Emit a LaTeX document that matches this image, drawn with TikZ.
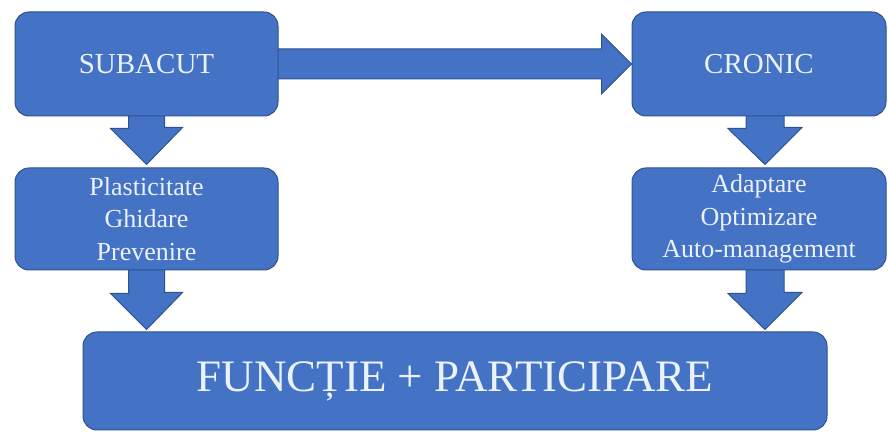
\documentclass[tikz,border=0pt]{standalone}
\usepackage{fontspec}
\setmainfont{Liberation Serif}
\usepackage{tikz}
\usetikzlibrary{calc,backgrounds}
\definecolor{boxblue}{RGB}{68,114,196}
\definecolor{edgeblue}{RGB}{47,82,143}
\definecolor{paletext}{RGB}{236,242,251}

\begin{document}
\begin{tikzpicture}[line join=miter,
  box/.style={draw=edgeblue,line width=1bp,fill=boxblue,rounded corners=14bp,
    text=paletext,inner sep=0pt,align=center},
  blockarrow/.style={draw=edgeblue,line width=1bp,fill=boxblue}]
\useasboundingbox (0bp,0bp) rectangle (888bp,432bp);
%%
\node (sub) at (146.5bp,368.0bp) [box,minimum width=263bp,minimum height=104bp,
  font=\fontsize{29bp}{34bp}\selectfont] {SUBACUT};
  \node (cron) at (759.0bp,368.0bp) [box,minimum width=254bp,minimum height=104bp,
  font=\fontsize{29bp}{34bp}\selectfont] {CRONIC};
  \node (plast) at (146.5bp,213.0bp) [box,minimum width=263bp,minimum height=102bp,
  font=\fontsize{26bp}{32.5bp}\selectfont] {Plasticitate\\Ghidare\\Prevenire};
  \node (adapt) at (759.0bp,213.0bp) [box,minimum width=254bp,minimum height=102bp,
  font=\fontsize{26bp}{32.5bp}\selectfont] {Adaptare\\Optimizare\\Auto-management};
  \node (func) at (455.0bp,51.0bp) [box,minimum width=744bp,minimum height=98bp,
  font=\fontsize{45bp}{50bp}\selectfont] {FUNCȚIE + PARTICIPARE};
%
\begin{scope}[on background layer]
  \draw [blockarrow] ([yshift=15bp,xshift=-4bp]sub.east) -- ([yshift=15bp,xshift=-30bp]cron.west)
    -- ++(0,15bp) -- (cron.west) -- ++(-30bp,-30bp) -- ++(0,15bp)
    -- ([yshift=-15bp,xshift=-4bp]sub.east) -- cycle;
  \draw [blockarrow] ([xshift=-18bp,yshift=4bp]sub.south) -- ++(0,-16bp) -- ++(-18bp,0)
    -- ([yshift=3bp]plast.north) -- ++(36bp,37bp) -- ++(-18bp,0) -- ++(0,16bp) -- cycle;
  \draw [blockarrow] ([xshift=-18bp,yshift=4bp]plast.south) -- ++(0,-27bp) -- ++(-18bp,0)
    -- ([yshift=2bp]plast.south |- func.north) -- ++(36bp,37bp) -- ++(-18bp,0) -- ++(0,27bp) -- cycle;
  \draw [blockarrow] ([xshift=-13bp,yshift=4bp]cron.south) -- ++(0,-16bp) -- ++(-18bp,0)
    -- ([xshift=6bp,yshift=3bp]adapt.north) -- ++(37bp,37bp) -- ++(-18bp,0) -- ++(0,16bp) -- cycle;
  \draw [blockarrow] ([xshift=-13bp,yshift=4bp]adapt.south) -- ++(0,-27bp) -- ++(-18bp,0)
    -- ([xshift=6bp,yshift=2bp]adapt.south |- func.north) -- ++(37bp,37bp) -- ++(-18bp,0) -- ++(0,27bp) -- cycle;
\end{scope}
%
\end{tikzpicture}
\end{document}
